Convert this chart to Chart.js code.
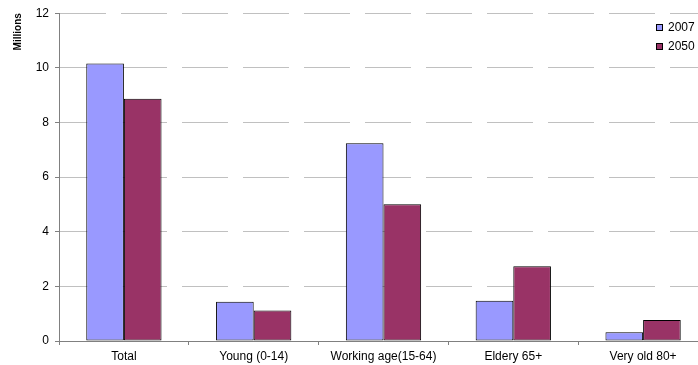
<!DOCTYPE html>
<html>
<head>
<meta charset="utf-8">
<title>Population by age group, 2007 and 2050</title>
<script src="https://cdn.jsdelivr.net/npm/chart.js@4"></script>
<style>
  html, body { margin: 0; padding: 0; background: #fff; overflow: hidden; }
  #wrap { width: 710px; height: 365px; }
</style>
</head>
<body>
<div id="wrap"><canvas id="popChart" width="710" height="365"></canvas></div>
<script>
// ---------- Data ----------
const categories = ["Total", "Young (0-14)", "Working age(15-64)", "Eldery 65+", "Very old 80+"];
const seriesNames = ["2007", "2050"];
const values2007 = [10.16, 1.44, 7.24, 1.47, 0.32];
const values2050 = [8.87, 1.12, 5.01, 2.74, 0.77];
const yTicks = [0, 2, 4, 6, 8, 10, 12];

const colors = ["#9999ff", "#993366"];
const FONT = "'Liberation Sans', Arial, sans-serif";

// ---------- Legend drawn in the top right corner ----------
const cornerLegend = {
  id: "cornerLegend",
  afterDraw(chart) {
    const ctx = chart.ctx;
    ctx.save();
    ctx.font = "12px " + FONT;
    ctx.textBaseline = "middle";
    chart.data.datasets.forEach((ds, i) => {
      const cy = 27.5 + i * 19;
      ctx.fillStyle = ds.backgroundColor;
      ctx.fillRect(656, cy - 3.5, 7, 7);
      ctx.strokeStyle = "#000";
      ctx.lineWidth = 1;
      ctx.strokeRect(656.5, cy - 3, 6, 6);
      ctx.fillStyle = "#000";
      ctx.fillText(ds.label, 668, cy);
    });
    ctx.restore();
  }
};

new Chart(document.getElementById("popChart"), {
  type: "bar",
  data: {
    labels: categories,
    datasets: [
      { label: seriesNames[0], data: values2007, backgroundColor: colors[0] },
      { label: seriesNames[1], data: values2050, backgroundColor: colors[1] }
    ]
  },
  options: {
    responsive: false,
    animation: false,
    layout: { padding: { top: 13, right: 2, left: 0, bottom: 0 } },
    datasets: {
      bar: {
        borderColor: "#000",
        borderWidth: 1,
        borderSkipped: false,
        categoryPercentage: 0.58,
        barPercentage: 1.0
      }
    },
    plugins: {
      legend: { display: false },
      tooltip: { enabled: false }
    },
    scales: {
      x: {
        offset: true,
        grid: {
          offset: true,
          drawOnChartArea: false,
          drawTicks: true,
          tickLength: 4,
          tickColor: "#808080"
        },
        border: { color: "#808080", width: 1 },
        ticks: {
          color: "#000",
          font: { family: FONT, size: 12 },
          padding: 4,
          maxRotation: 0,
          autoSkip: false
        },
        afterFit(scale) { scale.height = 24; }
      },
      y: {
        min: 0,
        max: 12,
        afterBuildTicks(scale) { scale.ticks = yTicks.map(v => ({ value: v })); },
        grid: {
          color: "#c0c0c0",
          lineWidth: 1,
          tickLength: 4,
          tickColor: "#808080"
        },
        border: { color: "#808080", width: 1, dash: [46, 15] },
        ticks: {
          color: "#000",
          font: { family: FONT, size: 12 },
          padding: 6
        },
        title: {
          display: true,
          text: "Millions",
          align: "end",
          color: "#000",
          font: { family: FONT, size: 10, weight: "bold" },
          padding: { top: 12, bottom: 0 }
        },
        afterFit(scale) { scale.width = 59; }
      }
    }
  },
  plugins: [cornerLegend]
});
</script>
</body>
</html>
